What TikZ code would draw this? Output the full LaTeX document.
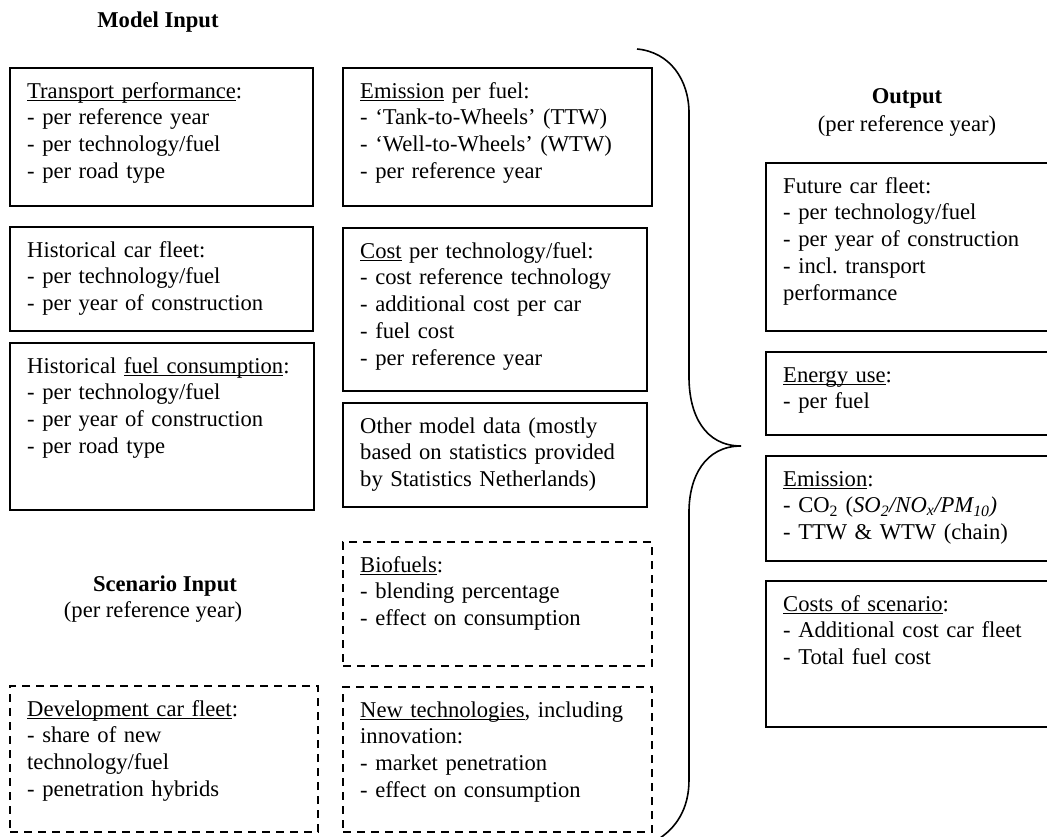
\documentclass[tikz,border=0pt]{standalone}
\usepackage{fontspec}
\setmainfont{Liberation Serif}
\frenchspacing
\newsavebox\ulbox
\newcommand\ulw[1]{\sbox\ulbox{#1}\rlap{\vrule height -1.8pt depth 3.3pt width \wd\ulbox}\usebox\ulbox}
\begin{document}
\begin{tikzpicture}[x=1pt,y=-1pt,
 box/.style={draw, line width=1.5pt, anchor=north west, inner sep=0pt, outer sep=0pt},
 dbox/.style={box, dash pattern=on 8pt off 6pt},
 txt/.style={anchor=base west, inner sep=0pt, text width=330pt, align=left,
   font=\fontsize{22.6}{26.8}\selectfont\frenchspacing, xshift=17pt, yshift=-30pt},
 ttl/.style={font=\fontsize{22.6}{26.8}\selectfont\bfseries, anchor=base, inner sep=0pt},
 sub/.style={font=\fontsize{22.6}{26.8}\selectfont, anchor=base, inner sep=0pt}]
\useasboundingbox (0,0) rectangle (1047,836);

% titles
\node[ttl] (mi) at (158,27) {Model Input};
\node[ttl] (out) at (907,103) {Output};
\node[sub] (outs) at (907,131) {(per reference year)};
\node[ttl] (si) at (165,591) {Scenario Input};
\node[sub] (sis) at (153,617) {(per reference year)};

% model input, column 1
\node[box, minimum width=303pt, minimum height=138pt] (tp) at (10,68) {};
\node[txt] (tpt) at (tp.north west) {\ulw{Transport performance}:\\- per reference year\\- per technology/fuel\\- per road type};
\node[box, minimum width=303pt, minimum height=104pt] (hf) at (10,227) {};
\node[txt] (hft) at (hf.north west) {Historical car fleet:\\- per technology/fuel\\- per year of construction};
\node[box, minimum width=304pt, minimum height=167pt] (hc) at (10,343) {};
\node[txt] (hct) at (hc.north west) {Historical \ulw{fuel consumption}:\\- per technology/fuel\\- per year of construction\\- per road type};

% model input, column 2
\node[box, minimum width=309pt, minimum height=138pt] (ep) at (343,68) {};
\node[txt] (ept) at (ep.north west) {\ulw{Emission} per fuel:\\- ‘Tank-to-Wheels’ (TTW)\\- ‘Well-to-Wheels’ (WTW)\\- per reference year};
\node[box, minimum width=304pt, minimum height=163pt] (ct) at (343,228) {};
\node[txt] (ctt) at (ct.north west) {\ulw{Cost} per technology/fuel:\\- cost reference technology\\- additional cost per car\\- fuel cost\\- per reference year};
\node[box, minimum width=304pt, minimum height=104pt] (om) at (343,403) {};
\node[txt] (omt) at (om.north west) {Other model data (mostly\\based on statistics provided\\by Statistics Netherlands)};

% scenario input
\node[dbox, minimum width=309pt, minimum height=124pt] (bf) at (343,542) {};
\node[txt] (bft) at (bf.north west) {\ulw{Biofuels}:\\- blending percentage\\- effect on consumption};
\node[dbox, minimum width=309pt, minimum height=145pt] (nt) at (343,687) {};
\node[txt] (ntt) at (nt.north west) {\ulw{New technologies}, including\\innovation:\\- market penetration\\- effect on consumption};
\node[dbox, minimum width=308pt, minimum height=146pt] (dc) at (10,686) {};
\node[txt] (dct) at (dc.north west) {\ulw{Development car fleet}:\\- share of new\\technology/fuel\\- penetration hybrids};

% output
\node[box, minimum width=290pt, minimum height=168pt] (fc) at (766,163) {};
\node[txt] (fct) at (fc.north west) {Future car fleet:\\- per technology/fuel\\- per year of construction\\- incl. transport\\performance};
\node[box, minimum width=290pt, minimum height=83pt] (eu) at (766,352) {};
\node[txt] (eut) at (eu.north west) {\ulw{Energy use}:\\- per fuel};
\node[box, minimum width=290pt, minimum height=105pt] (em) at (766,456) {};
\node[txt] (emt) at (em.north west) {\ulw{Emission}:\\- CO\textsubscript{2} (\textit{SO\textsubscript{2}/NO\textsubscript{x}/PM\textsubscript{10})}\\- TTW \& WTW (chain)};
\node[box, minimum width=290pt, minimum height=146pt] (cs) at (766,581) {};
\node[txt] (cst) at (cs.north west) {\ulw{Costs of scenario}:\\- Additional cost car fleet\\- Total fuel cost};

% brace
\draw[line width=1.6pt] (637,49) .. controls (670,52) and (689,80) .. (689,113)
  -- (689,377) .. controls (689,415) and (705,446) .. (741,446)
  .. controls (705,446) and (689,477) .. (689,512)
  -- (689,780) .. controls (689,810) and (675,828) .. (660,838);
\end{tikzpicture}
\end{document}
